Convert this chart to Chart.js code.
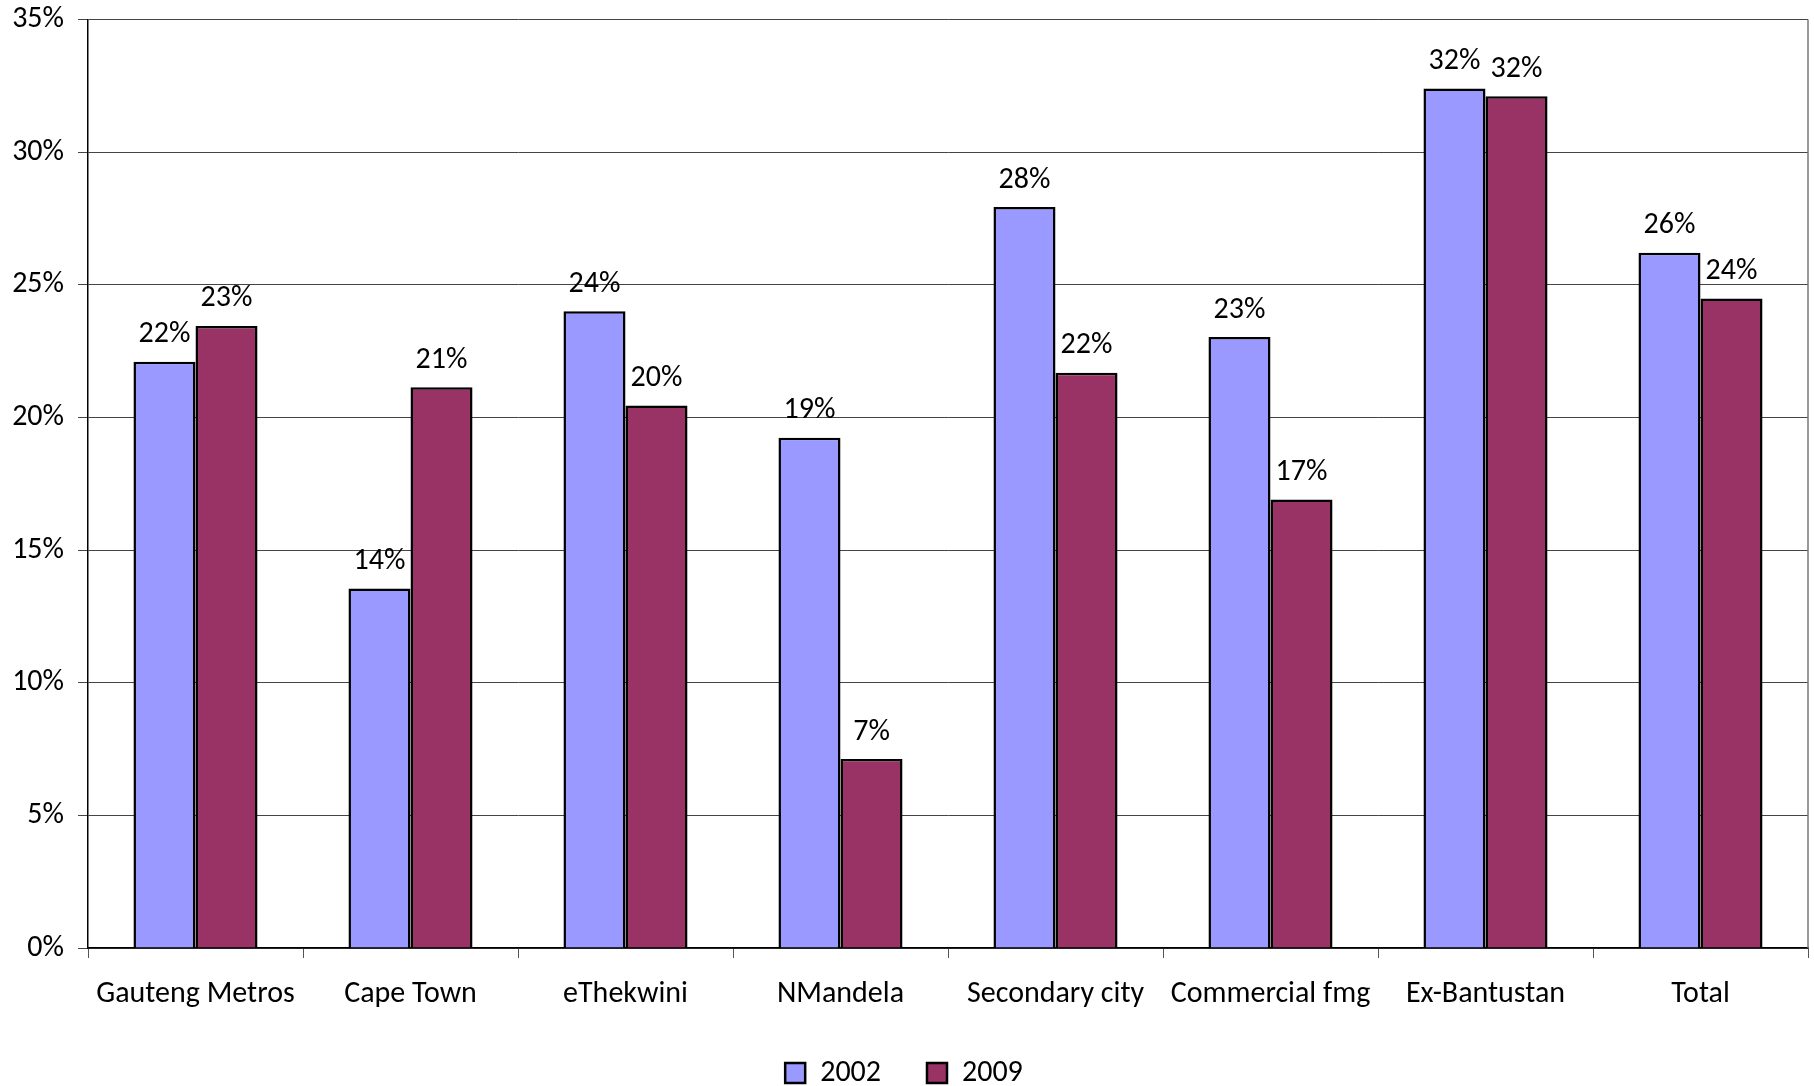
<!DOCTYPE html>
<html>
<head>
<meta charset="utf-8">
<script src="https://cdn.jsdelivr.net/npm/chart.js@4/dist/chart.umd.min.js"></script>
<style>
  html, body { margin: 0; padding: 0; background: #fff; }
  #wrap { width: 1814px; height: 1086px; }
</style>
</head>
<body>
<div id="wrap"><canvas id="barChart" width="1814" height="1086"></canvas></div>
<script>
const categories = ['Gauteng Metros', 'Cape Town', 'eThekwini', 'NMandela', 'Secondary city', 'Commercial fmg', 'Ex-Bantustan', 'Total'];
const values2002 = [22.1, 13.55, 24.0, 19.23, 27.93, 23.03, 32.4, 26.21];
const values2009 = [23.45, 21.14, 20.45, 7.12, 21.68, 16.91, 32.11, 24.48];
const yTicks = [0, 5, 10, 15, 20, 25, 30, 35];

const FONT = 'Carlito, "Open Sans", sans-serif';
const FONT_SIZE = 30;

// value labels above each bar
const barLabels = {
  id: 'barLabels',
  afterDatasetsDraw(chart) {
    const ctx = chart.ctx;
    ctx.save();
    ctx.font = FONT_SIZE + 'px ' + FONT;
    ctx.fillStyle = '#000';
    ctx.textAlign = 'center';
    ctx.textBaseline = 'middle';
    chart.data.datasets.forEach((ds, i) => {
      chart.getDatasetMeta(i).data.forEach((bar, j) => {
        ctx.fillText(Math.round(ds.data[j]) + '%', bar.x, bar.y - 27);
      });
    });
    ctx.restore();
  }
};

// plot area outline (right side)
const plotBorder = {
  id: 'plotBorder',
  beforeDatasetsDraw(chart) {
    const a = chart.chartArea;
    const ctx = chart.ctx;
    ctx.save();
    ctx.strokeStyle = '#777';
    ctx.lineWidth = 1.5;
    ctx.beginPath();
    ctx.moveTo(a.right, a.top);
    ctx.lineTo(a.right, a.bottom);
    ctx.stroke();
    ctx.restore();
  }
};

new Chart(document.getElementById('barChart').getContext('2d'), {
  type: 'bar',
  data: {
    labels: categories,
    datasets: [{
      label: '2002',
      data: values2002,
      backgroundColor: '#9999FF',
      borderColor: '#000',
      borderWidth: 2.5
    }, {
      label: '2009',
      data: values2009,
      backgroundColor: '#993366',
      borderColor: '#000',
      borderWidth: 2.5
    }]
  },
  options: {
    responsive: false,
    animation: false,
    devicePixelRatio: 1,
    layout: { padding: { top: 0, right: 6, left: 0, bottom: -12 } },
    categoryPercentage: 0.577,
    barPercentage: 1.0,
    plugins: {
      legend: {
        position: 'bottom',
        labels: {
          font: { size: FONT_SIZE, family: FONT },
          color: '#000',
          boxWidth: 20,
          boxHeight: 20,
          padding: 46
        }
      },
      tooltip: { enabled: false }
    },
    scales: {
      x: {
        grid: {
          display: true,
          drawOnChartArea: false,
          drawTicks: true,
          tickLength: 10,
          color: '#555',
          offset: true
        },
        border: { color: '#000', width: 1.5 },
        ticks: {
          font: { size: FONT_SIZE, family: FONT },
          color: '#000',
          padding: 18,
          maxRotation: 0
        },
        afterFit(scale) { scale.height = 64; }
      },
      y: {
        min: 0,
        max: 35,
        afterBuildTicks(scale) { scale.ticks = yTicks.map(v => ({ value: v })); },
        grid: {
          color: '#444',
          lineWidth: 1,
          tickLength: 10
        },
        border: { color: '#000', width: 1.5 },
        ticks: {
          font: { size: FONT_SIZE, family: FONT },
          color: '#000',
          padding: 14,
          callback: v => v + '%'
        },
        afterFit(scale) {
          scale.width = 88;
          scale.paddingTop = 19.5;
        }
      }
    }
  },
  plugins: [barLabels, plotBorder]
});
</script>
</body>
</html>
